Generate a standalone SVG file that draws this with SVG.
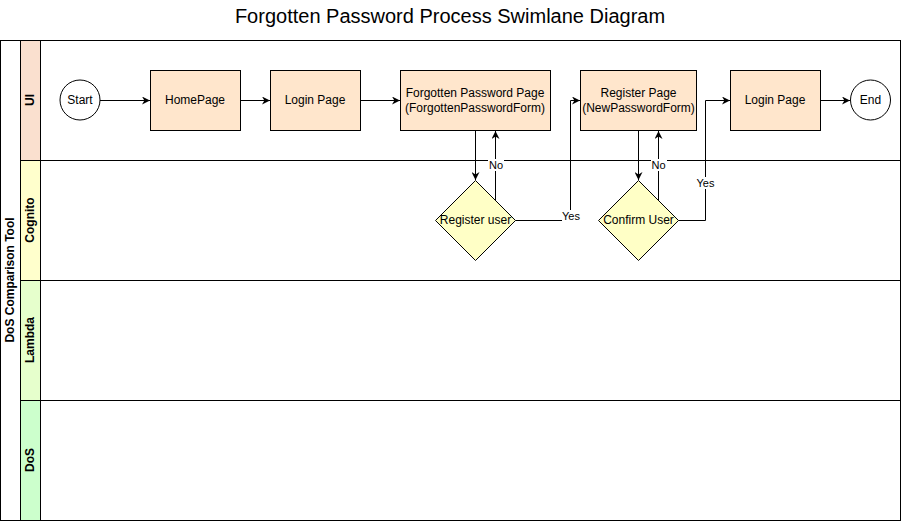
<svg xmlns="http://www.w3.org/2000/svg" width="901" height="521" viewBox="0 0 901 521">
<style>
text{font-family:"Liberation Sans",Arial,sans-serif;fill:#000}
.t{font-size:12px}
.h{font-size:12px;font-weight:bold}
.box{fill:#ffe6cc;stroke:#000;stroke-width:1}
.dia{fill:#ffffc6;stroke:#000;stroke-width:1}
.circ{fill:#fff;stroke:#000;stroke-width:1}
.ln{fill:none;stroke:#000;stroke-width:1}
.lbl{font-size:11px}
</style>
<defs>
<marker id="a" viewBox="0 0 10 10" refX="10" refY="5" markerWidth="8" markerHeight="8" markerUnits="userSpaceOnUse" orient="auto">
<path d="M0,0 L10,5 L0,10 L3,5 Z" fill="#000"/>
</marker>
</defs>
<rect width="901" height="521" fill="#fff"/>
<text x="450" y="23" text-anchor="middle" font-size="20">Forgotten Password Process Swimlane Diagram</text>
<g id="pool">
<rect x="0.5" y="40.5" width="900" height="480" fill="#fff" stroke="#000"/>
<rect x="0.5" y="40.5" width="20" height="480" fill="#fff" stroke="#000"/>
<text class="h" transform="translate(14,280) rotate(-90)" text-anchor="middle">DoS Comparison Tool</text>
</g>
<g id="lane-ui">
<rect x="20.5" y="40.5" width="880" height="120" fill="#fff" stroke="#000"/>
<rect x="20.5" y="40.5" width="20" height="120" fill="#fae0cf" stroke="#000"/>
<text class="h" transform="translate(34,100) rotate(-90)" text-anchor="middle">UI</text>
</g>
<g id="lane-cognito">
<rect x="20.5" y="160.5" width="880" height="120" fill="#fff" stroke="#000"/>
<rect x="20.5" y="160.5" width="20" height="120" fill="#ffffcc" stroke="#000"/>
<text class="h" transform="translate(34,220) rotate(-90)" text-anchor="middle">Cognito</text>
</g>
<g id="lane-lambda">
<rect x="20.5" y="280.5" width="880" height="120" fill="#fff" stroke="#000"/>
<rect x="20.5" y="280.5" width="20" height="120" fill="#e6ffcc" stroke="#000"/>
<text class="h" transform="translate(34,340) rotate(-90)" text-anchor="middle">Lambda</text>
</g>
<g id="lane-dos">
<rect x="20.5" y="400.5" width="880" height="120" fill="#fff" stroke="#000"/>
<rect x="20.5" y="400.5" width="20" height="120" fill="#ccffcc" stroke="#000"/>
<text class="h" transform="translate(34,460) rotate(-90)" text-anchor="middle">DoS</text>
</g>
<g id="start"><circle class="circ" cx="80" cy="100" r="20"/><text class="t" x="80" y="104" text-anchor="middle">Start</text></g>
<g id="homepage"><rect class="box" x="150.5" y="70.5" width="90" height="60"/><text class="t" x="195" y="104" text-anchor="middle">HomePage</text></g>
<g id="login1"><rect class="box" x="270.5" y="70.5" width="90" height="60"/><text class="t" x="315" y="104" text-anchor="middle">Login Page</text></g>
<g id="forgotten"><rect class="box" x="400.5" y="70.5" width="150" height="60"/><text class="t" x="475" y="97" text-anchor="middle">Forgotten Password Page</text><text class="t" x="475" y="112" text-anchor="middle">(ForgottenPasswordForm)</text></g>
<g id="register"><rect class="box" x="580.5" y="70.5" width="116" height="60"/><text class="t" x="638.5" y="97" text-anchor="middle">Register Page</text><text class="t" x="638.5" y="112" text-anchor="middle">(NewPasswordForm)</text></g>
<g id="login2"><rect class="box" x="730.5" y="70.5" width="90" height="60"/><text class="t" x="775" y="104" text-anchor="middle">Login Page</text></g>
<g id="end"><circle class="circ" cx="870.5" cy="100" r="20"/><text class="t" x="870.5" y="104" text-anchor="middle">End</text></g>
<g id="reguser"><path class="dia" d="M475.5,180.5 L515.5,220.5 L475.5,260.5 L435.5,220.5 Z"/><text class="t" x="475.5" y="224" text-anchor="middle">Register user</text></g>
<g id="confirm"><path class="dia" d="M638.5,180.5 L678.5,220.5 L638.5,260.5 L598.5,220.5 Z"/><text class="t" x="638.5" y="224" text-anchor="middle">Confirm User</text></g>
<g id="connectors">
<path class="ln" d="M100,100.5 H150" marker-end="url(#a)"/>
<path class="ln" d="M240.5,100.5 H270" marker-end="url(#a)"/>
<path class="ln" d="M360.5,100.5 H400" marker-end="url(#a)"/>
<path class="ln" d="M475.5,130.5 V180" marker-end="url(#a)"/>
<path class="ln" d="M495.5,200.5 V131" marker-end="url(#a)"/>
<path class="ln" d="M515.5,220.5 H570.5 V100.5 H580" marker-end="url(#a)"/>
<path class="ln" d="M638.5,130.5 V180" marker-end="url(#a)"/>
<path class="ln" d="M658.5,200.5 V131" marker-end="url(#a)"/>
<path class="ln" d="M678.5,220.5 H705.5 V100.5 H730" marker-end="url(#a)"/>
<path class="ln" d="M820.5,100.5 H850" marker-end="url(#a)"/>
<rect x="488" y="159" width="16" height="12" fill="#fff"/>
<text class="lbl" x="496" y="169" text-anchor="middle">No</text>
<rect x="651" y="159" width="16" height="12" fill="#fff"/>
<text class="lbl" x="658.5" y="169" text-anchor="middle">No</text>
<rect x="562" y="210" width="20" height="12" fill="#fff"/>
<text class="lbl" x="571" y="220" text-anchor="middle">Yes</text>
<rect x="695" y="177" width="20" height="12" fill="#fff"/>
<text class="lbl" x="705.5" y="187" text-anchor="middle">Yes</text>
</g>
</svg>
